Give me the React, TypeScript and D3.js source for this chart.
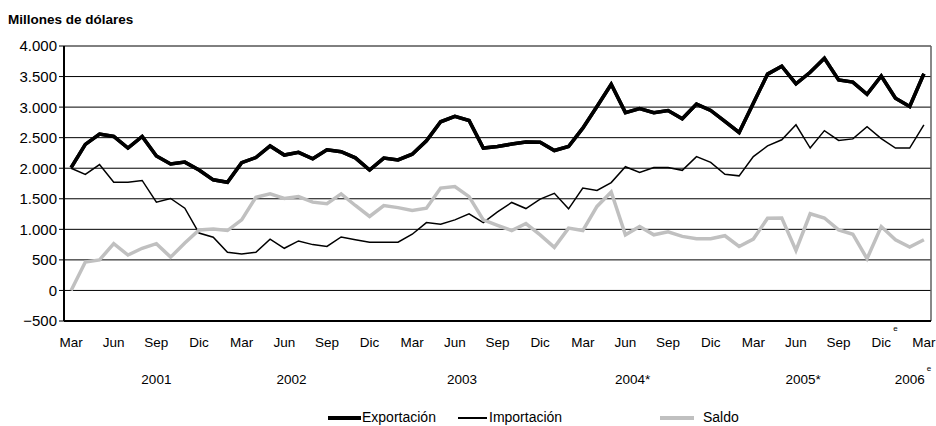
import * as d3 from "d3"

// Monthly values, Mar 2001 .. Mar 2006 (61 months), millions of dollars
const exportacion = [
  2010, 2390, 2560, 2520, 2330, 2520, 2200, 2070, 2100, 1970,
  1810, 1770, 2090, 2175, 2365, 2215, 2260, 2155, 2300, 2270,
  2170, 1970, 2165, 2135, 2230, 2450, 2760, 2850, 2780, 2330,
  2355, 2395, 2430, 2425, 2290, 2355, 2655, 3010, 3375, 2910,
  2975, 2910, 2945, 2810, 3050, 2945, 2765, 2585, 3065, 3540,
  3670, 3380, 3570, 3800, 3445, 3410, 3210, 3510, 3145, 3010, 3545,
]
const importacion = [
  2000, 1900, 2060, 1770, 1770, 1800, 1445, 1505, 1345, 940,
  870, 625, 595, 625, 840, 690, 810, 750, 720, 875,
  830, 790, 790, 790, 920, 1110, 1085, 1155, 1255, 1110,
  1285, 1440, 1340, 1495, 1590, 1335, 1675, 1635, 1765, 2025,
  1930, 2010, 2010, 1965, 2190, 2095, 1900, 1875, 2190, 2365,
  2465, 2710, 2330, 2615, 2455, 2480, 2680, 2485, 2330, 2330, 2710,
]
const saldo = [
  0, 465, 500, 765, 580, 690, 765, 545, 775, 990,
  1005, 980, 1155, 1525, 1580, 1505, 1535, 1445, 1420, 1580,
  1390, 1210, 1390, 1355, 1310, 1345, 1675, 1700, 1535, 1155,
  1065, 980, 1095, 910, 705, 1020, 980, 1375, 1610, 910,
  1045, 910, 960, 885, 845, 845, 895, 720, 840, 1180,
  1185, 655, 1255, 1185, 990, 920, 520, 1045, 830, 710, 830,
]

const monthTicks = [
  "Mar", "Jun", "Sep", "Dic", "Mar", "Jun", "Sep", "Dic", "Mar", "Jun", "Sep",
  "Dic", "Mar", "Jun", "Sep", "Dic", "Mar", "Jun", "Sep", "Dic", "Mar",
]
const years = ["2001", "2002", "2003", "2004*", "2005*", "2006"]
// index range each year label is centred on
const yearFirst = [3, 10, 22, 34, 46, 58]
const yearLast = [9, 21, 33, 45, 57, 60]
const yTicks = [-500, 0, 500, 1000, 1500, 2000, 2500, 3000, 3500, 4000]

const series = [
  { name: "Exportación", values: exportacion, color: "#000000", width: 3.5 },
  { name: "Importación", values: importacion, color: "#000000", width: 1.5 },
  { name: "Saldo", values: saldo, color: "#c0c0c0", width: 3.5 },
]

const W = 936
const H = 426
const FONT = "'Liberation Sans', Arial, sans-serif"

export default function App() {
  const left = 64
  const right = 931
  const top = 46
  const bottom = 321

  const x = d3.scaleBand<number>()
    .domain(d3.range(exportacion.length))
    .range([left, right])
  const cx = (i: number) => (x(i) as number) + x.bandwidth() / 2

  const y = d3.scaleLinear().domain([-500, 4000]).range([bottom, top])

  const line = (vals: number[]) =>
    d3.line<number>()
      .x((_, i) => cx(i))
      .y((d) => y(d))(vals) as string

  const fmt = (v: number) => d3.format(",")(v).replace(/,/g, ".")

  // legend layout
  const legend = [
    { x0: 328, x1: 361, tx: 362 },
    { x0: 458, x1: 487, tx: 489 },
    { x0: 660, x1: 694, tx: 703 },
  ]

  return (
    <svg
      width={W}
      height={H}
      style={{ position: "absolute", left: 0, top: 0, background: "#fff" }}
      fontFamily={FONT}
    >
      <text x={8} y={24} fontSize={13.5} fontWeight="bold" fill="#000">
        Millones de dólares
      </text>

      {/* gridlines */}
      {yTicks.map((t) => (
        <line key={t} x1={left} x2={right} y1={y(t)} y2={y(t)} stroke="#000" strokeWidth={1} />
      ))}
      <line x1={right} x2={right} y1={top} y2={bottom} stroke="#606060" strokeWidth={1.5} />

      {/* y axis */}
      <line x1={left} x2={left} y1={top} y2={bottom} stroke="#000" strokeWidth={2} />
      {yTicks.map((t) => (
        <g key={t}>
          <line x1={left - 5} x2={left} y1={y(t)} y2={y(t)} stroke="#000" strokeWidth={1} />
          <text x={57} y={y(t)} dy="0.36em" textAnchor="end" fontSize={15} fill="#000">
            {fmt(t)}
          </text>
        </g>
      ))}
      <line x1={left} x2={right} y1={bottom} y2={bottom} stroke="#000" strokeWidth={2} />

      {/* series */}
      {series.map((s) => (
        <path
          key={s.name}
          d={line(s.values)}
          fill="none"
          stroke={s.color}
          strokeWidth={s.width}
          strokeLinejoin="miter"
        />
      ))}
      <path d={line(exportacion)} fill="none" stroke="#000" strokeWidth={3.5} />

      {/* month labels */}
      {monthTicks.map((m, k) => (
        <text key={k} x={cx(k * 3)} y={347} textAnchor="middle" fontSize={13.5} fill="#000">
          {m}
        </text>
      ))}
      <text x={cx(57) + 12} y={331} fontSize={8} fill="#000">e</text>

      {/* year labels */}
      {years.map((yr, k) => (
        <text
          key={yr}
          x={(cx(yearFirst[k]) + cx(yearLast[k])) / 2}
          y={384}
          textAnchor="middle"
          fontSize={13.5}
          fill="#000"
        >
          {yr}
        </text>
      ))}
      <text x={(cx(58) + cx(60)) / 2 + 17} y={371} fontSize={8} fill="#000">e</text>

      {/* legend */}
      {series.map((s, k) => (
        <g key={s.name}>
          <line
            x1={legend[k].x0}
            x2={legend[k].x1}
            y1={418}
            y2={418}
            stroke={s.color}
            strokeWidth={s.width + 0.5}
          />
          <text x={legend[k].tx} y={422} fontSize={14} fill="#000">
            {s.name}
          </text>
        </g>
      ))}
    </svg>
  )
}
